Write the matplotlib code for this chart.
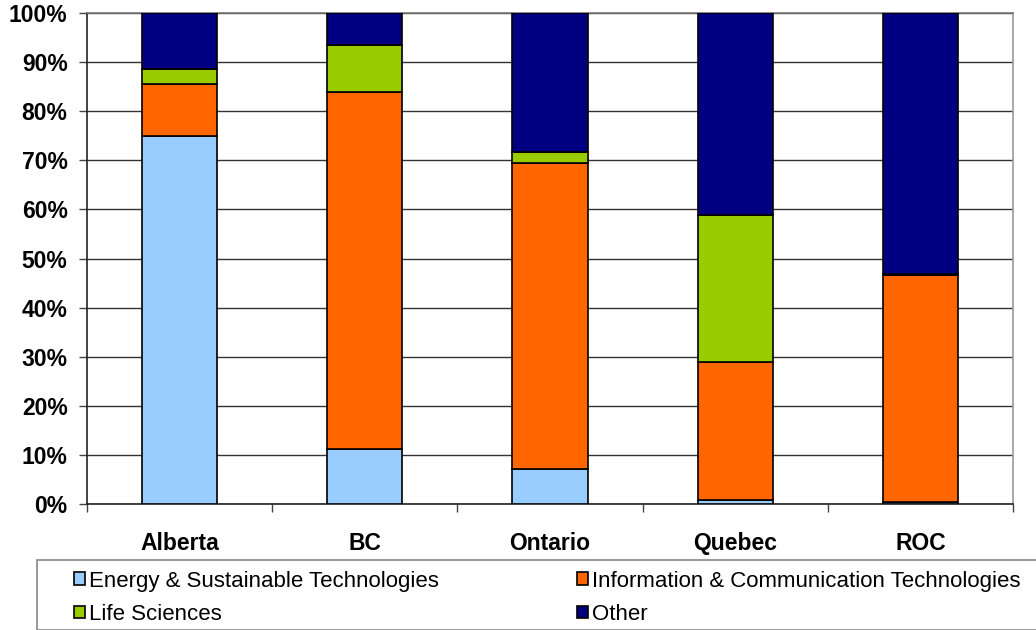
import matplotlib
matplotlib.use("Agg")
import matplotlib.pyplot as plt
from matplotlib.patches import Rectangle
from matplotlib.ticker import FuncFormatter, MultipleLocator
import numpy as np

plt.rcParams['font.family'] = ['Liberation Sans', 'DejaVu Sans']

categories = ["Alberta", "BC", "Ontario", "Quebec", "ROC"]
series_names = ["Energy & Sustainable Technologies",
                "Information & Communication Technologies",
                "Life Sciences", "Other"]
energy = [75.0, 11.2, 7.1, 0.8, 0.5]
ict = [10.5, 72.7, 62.3, 28.1, 46.1]
life = [3.1, 9.6, 2.3, 30.0, 0.2]
other = [11.4, 6.5, 28.3, 41.1, 53.2]
colors = ["#99CCFF", "#FF6600", "#99CC00", "#000080"]

fig = plt.figure(figsize=(10.36, 6.30), dpi=100)
ax = fig.add_axes([87/1036, (630-504)/630, (1013-87)/1036, (504-13)/630])

x = np.arange(len(categories))
bottom = np.zeros(len(categories))
handles = []
for vals, col, name in zip([energy, ict, life, other], colors, series_names):
    v = np.array(vals)
    b = ax.bar(x, v, 0.405, bottom=bottom, color=col, edgecolor="black",
               linewidth=1.2, label=name, zorder=3)
    handles.append(b)
    bottom += v

ax.set_xlim(-0.5, len(categories) - 0.5)
ax.set_ylim(0, 100)
ax.yaxis.set_major_locator(MultipleLocator(10))
ax.yaxis.set_major_formatter(FuncFormatter(lambda v, p: f"{int(v)}%"))
ax.yaxis.grid(True, color="#333333", linewidth=1.0, zorder=0)
ax.set_axisbelow(True)

ax.set_xticks(x)
ax.set_xticklabels(categories, fontsize=16.5, fontweight="bold")
ax.tick_params(axis="x", length=0, pad=20)
ax.set_xticks(np.arange(-0.5, len(categories) + 0.5, 1), minor=True)
ax.tick_params(axis="x", which="minor", length=6, width=1, color="#444444")
ax.tick_params(axis="y", labelsize=16.5, length=6, width=1, pad=8, color="#444444")
for lab in ax.get_yticklabels():
    lab.set_fontweight("bold")

ax.spines["left"].set_color("#222222")
ax.spines["bottom"].set_color("#222222")
ax.spines["right"].set_color("#999999")
ax.spines["top"].set_color("#777777")
for s in ax.spines.values():
    s.set_linewidth(1.2)

# legend frame
fig.patches.append(Rectangle((37/1036, 0.5/630), 1.1, (630-560)/630,
                             transform=fig.transFigure, facecolor="none",
                             edgecolor="#888888", linewidth=1.2))
order = [0, 2, 1, 3]  # row-wise fill like the original
leg = fig.legend(handles=[handles[i] for i in order],
                 labels=[series_names[i] for i in order], ncol=2,
                 loc="upper left", bbox_to_anchor=(58/1036, (630-555)/630),
                 frameon=False, fontsize=16, handlelength=0.5,
                 handleheight=0.5, handletextpad=0.2, columnspacing=6.2,
                 labelspacing=0.55, borderpad=0.2)

fig.savefig("out.png", dpi=100)
